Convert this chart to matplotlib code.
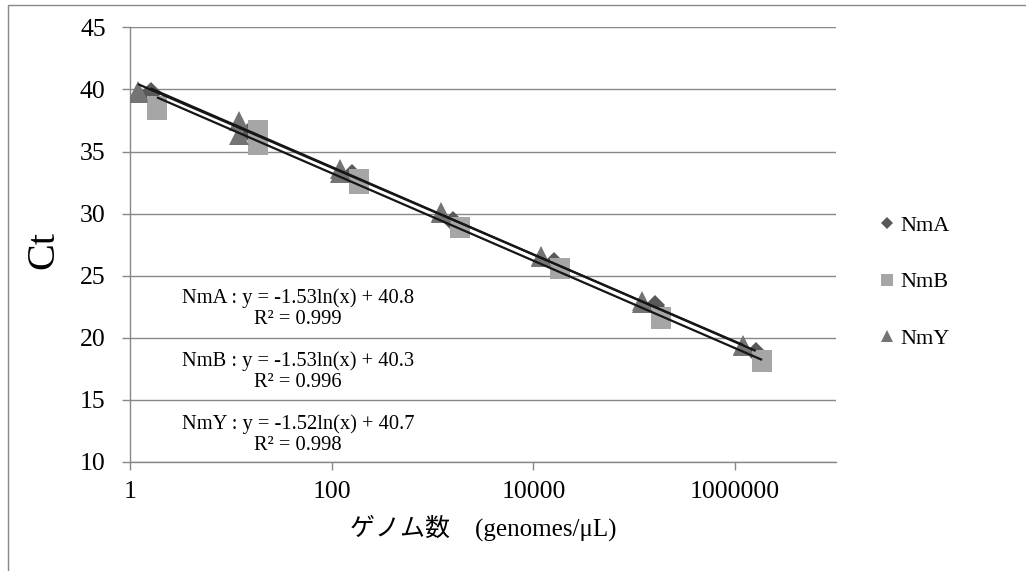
import numpy as np
import matplotlib
matplotlib.use("Agg")
import matplotlib.pyplot as plt
from matplotlib.lines import Line2D
from matplotlib.patches import Rectangle

plt.rcParams['font.family'] = ['Liberation Serif', 'Noto Sans CJK JP', 'DejaVu Sans']

# ---- data ----
series_names = ['NmA', 'NmB', 'NmY']
conc_nma = [1.6, 16, 160, 1600, 16000, 160000, 1600000]
ct_nma_rep1 = [39.8, 36.7, 33.17, 29.42, 26.12, 22.63, 18.86]
ct_nma_rep2 = [39.6, 36.4, 33.0, 29.3, 26.0, 22.5, 18.75]

conc_nmb = [1.85, 18.5, 185, 1850, 18500, 185000, 1850000]
ct_nmb_rep1 = [38.7, 36.77, 32.8, 28.91, 25.63, 21.64, 18.21]
ct_nmb_rep2 = [38.38, 35.56, 32.42, 28.83, 25.56, 21.52, 18.02]

conc_nmy = [1.2, 12, 120, 1200, 12000, 120000, 1200000]
ct_nmy_rep1 = [39.9, 37.44, 33.6, 30.1, 26.6, 22.93, 19.44]
ct_nmy_rep2 = [39.75, 36.29, 33.28, 30.05, 26.5, 22.8, 19.36]

# trendline coefficients as printed on the chart: y = slope*ln(x) + intercept
trend_slopes = [-1.53, -1.53, -1.52]
trend_intercepts = [40.8, 40.3, 40.7]
trend_r2 = ['0.999', '0.996', '0.998']

x_ticks = [1, 100, 10000, 1000000]
x_tick_labels = ['1', '100', '10000', '1000000']
y_ticks = [10, 15, 20, 25, 30, 35, 40, 45]

# ---- figure ----
W, H = 1026, 571
fig = plt.figure(figsize=(W / 100, H / 100), dpi=100)
ax_l, ax_r, ax_t, ax_b = 130, 836, 27.3, 462
ax = fig.add_axes([ax_l / W, 1 - ax_b / H, (ax_r - ax_l) / W, (ax_b - ax_t) / H])

grid_c = '#888888'
colors = {'NmA': '#595959', 'NmB': '#a6a6a6', 'NmY': '#747474'}
markers = {'NmA': ('D', 10.2), 'NmB': ('s', 15), 'NmY': ('^', 15)}

data = {
    'NmA': (conc_nma, [ct_nma_rep1, ct_nma_rep2]),
    'NmB': (conc_nmb, [ct_nmb_rep1, ct_nmb_rep2]),
    'NmY': (conc_nmy, [ct_nmy_rep1, ct_nmy_rep2]),
}

for i, name in enumerate(series_names):
    xs, reps = data[name]
    m, ms = markers[name]
    for rep in reps:
        ax.plot(xs, rep, ls='none', marker=m, ms=ms, mew=0,
                color=colors[name], zorder=3 + i)

for i, name in enumerate(series_names):
    xs, _ = data[name]
    xx = np.geomspace(min(xs), max(xs), 50)
    yy = trend_slopes[i] * np.log(xx) + trend_intercepts[i]
    ax.plot(xx, yy, color='#161616', lw=1.6, zorder=10, solid_capstyle='butt')

ax.set_xscale('log')
ax.set_xlim(1, 1e7)
ax.set_ylim(10, 45)
ax.set_xticks(x_ticks)
ax.set_xticklabels(x_tick_labels)
ax.xaxis.set_minor_locator(matplotlib.ticker.NullLocator())
ax.set_yticks(y_ticks)

ax.grid(axis='y', color=grid_c, lw=1.0, zorder=0)
ax.grid(axis='x', visible=False)
for s in ['top', 'right']:
    ax.spines[s].set_visible(False)
for s in ['left', 'bottom']:
    ax.spines[s].set_color(grid_c)
    ax.spines[s].set_linewidth(1.0)
ax.tick_params(axis='both', direction='out', length=5.5, width=1.0,
               color=grid_c, labelsize=18.5, labelcolor='black')
ax.tick_params(axis='y', pad=12)
ax.tick_params(axis='x', pad=8)

ax.set_ylabel('Ct', fontsize=29, va='center')
ax.yaxis.set_label_coords((44 - ax_l) / (ax_r - ax_l), (ax_b - 250) / (ax_b - ax_t))
ax.set_xlabel('ゲノム数\u3000(genomes/μL)', fontsize=18, va='center')
ax.xaxis.set_label_coords(0.5, (ax_b - 528) / (ax_b - ax_t))

# trendline equations
eq_y = [309, 371.5, 434.5]
for i, name in enumerate(series_names):
    txt = f"{name} : y = {trend_slopes[i]:.2f}ln(x) + {trend_intercepts[i]:.1f}\nR² = {trend_r2[i]}"
    fig.text(298 / W, 1 - eq_y[i] / H, txt, ha='center', va='center',
             fontsize=14.8, linespacing=1.15, zorder=20)

# legend
handles = [Line2D([], [], ls='none', marker='D', ms=6.2, mew=0, color=colors['NmA']),
           Line2D([], [], ls='none', marker='s', ms=8.4, mew=0, color=colors['NmB']),
           Line2D([], [], ls='none', marker='^', ms=9, mew=0, color=colors['NmY'])]
leg = fig.legend(handles, series_names, loc='upper left',
                 bbox_to_anchor=(880 / W, 1 - 215 / H), frameon=False,
                 fontsize=16, handlelength=0.6, handletextpad=0.3,
                 labelspacing=1.63, borderpad=0, borderaxespad=0)

# chart border (cropped on right/bottom)
fig.add_artist(Rectangle((8 / W, -0.1), 1.5, (H - 5) / H + 0.1,
                         transform=fig.transFigure, fill=False,
                         ec=grid_c, lw=1.0))

fig.savefig('out.png', dpi=100)
